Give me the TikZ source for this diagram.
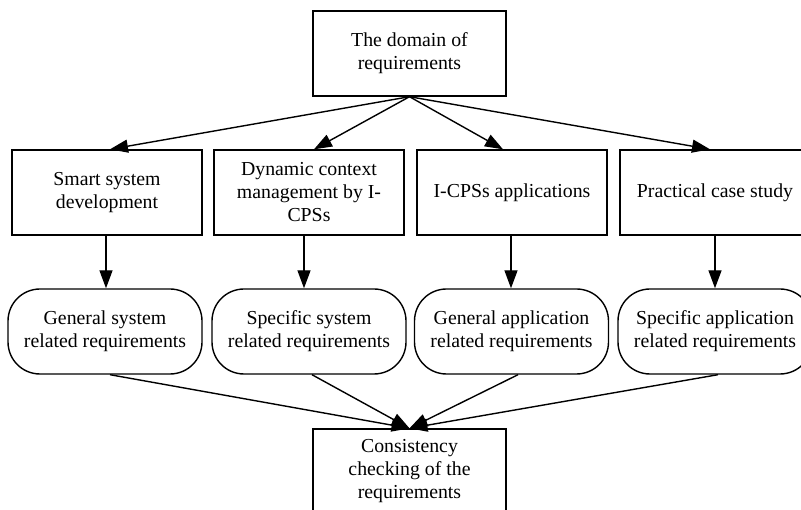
\documentclass[tikz,border=0pt]{standalone}
\usepackage{fontspec}
\setmainfont{Liberation Serif}
\usetikzlibrary{arrows.meta}
\begin{document}
\begin{tikzpicture}[x=1pt,y=-1pt,
  box/.style={draw, line width=1.4pt, minimum width=190pt, minimum height=85pt,
    inner sep=0pt, align=center, font=\fontsize{19.8}{23}\selectfont},
  rbox/.style={box, rounded corners=32pt, minimum width=194pt},
  arr/.style={-{Triangle[length=18pt,width=13pt]}, line width=1.4pt}]
\useasboundingbox (0,0) rectangle (801,510);

% root
\node[box, minimum width=193pt] (top) at (409.5,53.5) {The domain of\\requirements};

% topic areas
\node[box] (a1) at (107,192.5) {Smart system\\development};
\node[box] (a2) at (309,192.5) {Dynamic context\\management by I-\\CPSs};
\node[box] (a3) at (512,192.5) {I-CPSs applications};
\node[box] (a4) at (715,192.5) {Practical case study};

% requirement groups
\node[rbox] (b1) at (105,331.5) {General system\\related requirements};
\node[rbox] (b2) at (309,331.5) {Specific system\\related requirements};
\node[rbox] (b3) at (511.5,331.5) {General application\\related requirements};
\node[rbox] (b4) at (715,331.5) {Specific application\\related requirements};

% final check
\node[box, minimum width=193pt] (chk) at (409.5,471.5) {Consistency\\checking of the\\requirements};

% root to topic areas
\draw[arr] (top.south) -- ([xshift=3pt]a1.north);
\draw[arr] (top.south) -- ([xshift=5pt]a2.north);
\draw[arr] (top.south) -- ([xshift=-9pt]a3.north);
\draw[arr] (top.south) -- ([xshift=-5pt]a4.north);

% topic areas to requirement groups
\draw[arr] ([xshift=-1pt]a1.south) -- ([xshift=1pt]b1.north);
\draw[arr] ([xshift=-5pt]a2.south) -- ([xshift=-5pt]b2.north);
\draw[arr] ([xshift=-1pt]a3.south) -- ([xshift=-0.5pt]b3.north);
\draw[arr] (a4.south) -- (b4.north);

% requirement groups to consistency check
\draw[arr] ([xshift=5pt]b1.south) -- (chk.north);
\draw[arr] ([xshift=3pt]b2.south) -- (chk.north);
\draw[arr] ([xshift=6.5pt]b3.south) -- (chk.north);
\draw[arr] ([xshift=3pt]b4.south) -- (chk.north);
\end{tikzpicture}
\end{document}
